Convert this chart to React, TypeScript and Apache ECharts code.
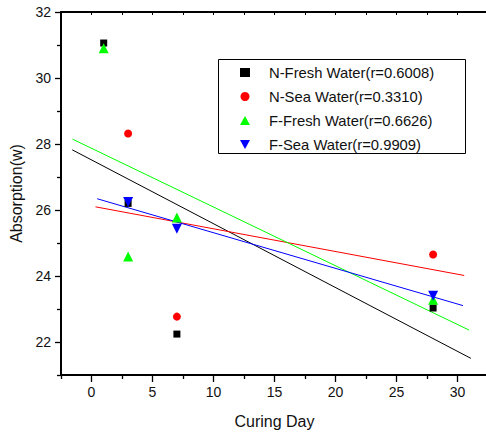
import React, { useEffect, useRef } from "react";
import * as echarts from "echarts";

const seriesNames = [
  "N-Fresh Water(r=0.6008)",
  "N-Sea Water(r=0.3310)",
  "F-Fresh Water(r=0.6626)",
  "F-Sea Water(r=0.9909)",
];
const colors = ["#000000", "#ff0000", "#00ff00", "#0000ff"];

const nFreshX = [1, 3, 7, 28];
const nFreshY = [31.06, 26.2, 22.24, 23.03];
const nSeaX = [3, 7, 28];
const nSeaY = [28.32, 22.77, 24.65];
const fFreshX = [1, 3, 7, 28];
const fFreshY = [30.9, 24.59, 25.77, 23.28];
const fSeaX = [3, 7, 28];
const fSeaY = [26.24, 25.43, 23.4];

// x-extent of each fitted line
const fitRanges = [
  [-1.58, 31.1],
  [0.33, 30.55],
  [-1.55, 30.95],
  [0.47, 30.45],
];

const xMajorTicks = [0, 5, 10, 15, 20, 25, 30];
const xMinorTicks = [-2.5, 2.5, 7.5, 12.5, 17.5, 22.5, 27.5, 32.5];
const yMajorTicks = [22, 24, 26, 28, 30, 32];
const yMinorTicks = [21, 23, 25, 27, 29, 31];

function fit(xs: number[], ys: number[]) {
  const n = xs.length;
  const mx = xs.reduce((a, b) => a + b, 0) / n;
  const my = ys.reduce((a, b) => a + b, 0) / n;
  let sxy = 0,
    sxx = 0;
  for (let i = 0; i < n; i++) {
    sxy += (xs[i] - mx) * (ys[i] - my);
    sxx += (xs[i] - mx) * (xs[i] - mx);
  }
  const b = sxy / sxx;
  return { b, a: my - b * mx };
}

export default function App() {
  const ref = useRef<HTMLDivElement>(null);
  useEffect(() => {
    if (!ref.current) return;
    const chart = echarts.init(ref.current, null, { renderer: "svg" });
    const font = "Liberation Sans, Arial, sans-serif";
    const groups = [
      [nFreshX, nFreshY],
      [nSeaX, nSeaY],
      [fFreshX, fFreshY],
      [fSeaX, fSeaY],
    ];
    const symbols = ["rect", "circle", "triangle", "triangle"];
    const sizes = [7, 8, 10, 10];
    const rotates = [0, 0, 0, 180];
    const legendIcons = [
      "rect",
      "circle",
      "triangle",
      "path://M0,0 L10,0 L5,9 Z",
    ];

    const lineSeries = groups.map(([xs, ys], i) => {
      const { a, b } = fit(xs, ys);
      const [x0, x1] = fitRanges[i];
      return {
        type: "line",
        name: "fit" + i,
        data: [
          [x0, a + b * x0],
          [x1, a + b * x1],
        ],
        showSymbol: false,
        symbol: "none",
        lineStyle: { color: colors[i], width: 1 },
        z: 2,
        silent: true,
      };
    });
    const scatterSeries = groups.map(([xs, ys], i) => ({
      type: "scatter",
      name: seriesNames[i],
      data: xs.map((x, j) => [x, ys[j]]),
      symbol: symbols[i],
      symbolSize: sizes[i],
      symbolRotate: rotates[i],
      itemStyle: { color: colors[i], opacity: 1 },
      z: 3,
    }));

    const mkAxisLine = () => ({ show: true, onZero: false, lineStyle: { color: "#000", width: 2 } });
    const tickStyle = { color: "#000", width: 1.3 };
    chart.setOption({
      animation: false,
      backgroundColor: "#fff",
      textStyle: { fontFamily: font },
      grid: { left: 61, right: -2, top: 12, bottom: 58, outerBoundsMode: "none" },
      legend: {
        data: seriesNames.map((n, i) => ({
          name: n,
          icon: legendIcons[i],
          itemStyle: { color: colors[i] },
        })),
        orient: "vertical",
        left: 240,
        top: 65,
        itemWidth: 10,
        itemHeight: 9,
        itemGap: 9,
        padding: 0,
        textStyle: {
          fontSize: 14.8,
          color: "#111",
          fontFamily: font,
          padding: [0, 0, 0, 14],
        },
        selectedMode: false,
      },
      graphic: [
        {
          type: "rect",
          shape: { x: 218.5, y: 59.5, width: 247, height: 94 },
          style: { fill: "none", stroke: "#000", lineWidth: 1 },
          z: 10,
          silent: true,
        },
      ],
      xAxis: [
        {
          type: "value",
          position: "bottom",
          min: -2.5,
          max: 32.5,
          axisLine: mkAxisLine(),
          splitLine: { show: false },
          axisTick: { show: true, customValues: xMajorTicks, length: 7, lineStyle: tickStyle },
          axisLabel: { customValues: xMajorTicks, fontSize: 14, color: "#111", margin: 10, fontFamily: font },
          name: "Curing Day",
          nameLocation: "middle",
          nameGap: 38,
          nameTextStyle: { fontSize: 16, color: "#111", fontFamily: font },
        },
        {
          type: "value",
          position: "bottom",
          min: -2.5,
          max: 32.5,
          axisLine: { show: false, onZero: false },
          splitLine: { show: false },
          axisTick: { show: true, customValues: xMinorTicks, length: 4, lineStyle: tickStyle },
          axisLabel: { show: false },
        },
        {
          type: "value",
          position: "top",
          min: -2.5,
          max: 32.5,
          axisLine: mkAxisLine(),
          splitLine: { show: false },
          axisTick: {
            show: true,
            inside: true,
            customValues: [...xMinorTicks, ...xMajorTicks],
            length: 3,
            lineStyle: { color: "#000", width: 1 },
          },
          axisLabel: { show: false },
        },
      ],
      yAxis: [
        {
          type: "value",
          position: "left",
          min: 21,
          max: 32,
          axisLine: mkAxisLine(),
          splitLine: { show: false },
          axisTick: { show: true, customValues: yMajorTicks, length: 6, lineStyle: tickStyle },
          axisLabel: { customValues: yMajorTicks, fontSize: 14, color: "#111", margin: 10, fontFamily: font },
          name: "Absorption(w)",
          nameLocation: "middle",
          nameGap: 33,
          nameTextStyle: { fontSize: 16, color: "#111", fontFamily: font },
        },
        {
          type: "value",
          position: "left",
          min: 21,
          max: 32,
          axisLine: { show: false, onZero: false },
          splitLine: { show: false },
          axisTick: { show: true, customValues: yMinorTicks, length: 4, lineStyle: tickStyle },
          axisLabel: { show: false },
        },
      ],
      series: [...lineSeries, ...scatterSeries],
    });
    return () => chart.dispose();
  }, []);
  return (
    <div
      ref={ref}
      style={{ position: "fixed", left: 0, top: 0, width: 486, height: 433, background: "#fff" }}
    />
  );
}
